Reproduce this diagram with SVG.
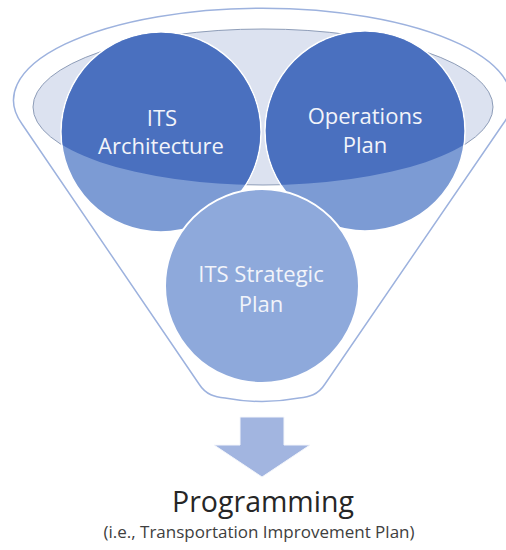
<svg xmlns="http://www.w3.org/2000/svg" width="506" height="550" viewBox="0 0 506 550">
  <style>
    .lbl { font-family: "Open Sans", "Liberation Sans", sans-serif; font-size: 22px; fill: #F2F4FA; text-anchor: middle; }
    .top-lo { fill: #7C9BD4; stroke: #FFFFFF; stroke-width: 1.5; }
    .top-hi { fill: #4A70BF; }
    .cap { font-family: "Open Sans", "Liberation Sans", sans-serif; text-anchor: middle; }
  </style>
  <defs>
    <clipPath id="aboveRim">
      <path d="M 0,0 H 506 V 107 H 493 A 230 78 0 0 1 33,107 H 0 Z"/>
    </clipPath>
  </defs>
  <rect width="506" height="550" fill="#FFFFFF"/>

  <g id="funnel">
    <path d="M 22,124 A 249 92 0 1 1 503,124 L 325,384 C 318,395 309,397 299,398 Q 262,405 225,398 C 215,397 206,395 199,384 Z" fill="#FFFFFF" stroke="#9DB2DE" stroke-width="1.5"/>
    <ellipse cx="263" cy="107" rx="230" ry="78" fill="#DCE2F0" stroke="#8E9DB8" stroke-width="1"/>
  </g>

  <g id="node-its-architecture">
    <circle class="top-lo" cx="161" cy="132" r="100"/>
    <circle class="top-hi" cx="161" cy="132" r="99.2" clip-path="url(#aboveRim)"/>
    <text class="lbl" x="162" y="126">ITS</text>
    <text class="lbl" x="161" y="154">Architecture</text>
  </g>

  <g id="node-operations-plan">
    <circle class="top-lo" cx="365" cy="131" r="100"/>
    <circle class="top-hi" cx="365" cy="131" r="99.2" clip-path="url(#aboveRim)"/>
    <text class="lbl" x="365" y="124">Operations</text>
    <text class="lbl" x="365" y="153">Plan</text>
  </g>

  <g id="node-its-strategic-plan">
    <circle cx="262" cy="286" r="97" fill="#8EA9DB" stroke="#FFFFFF" stroke-width="2"/>
    <text class="lbl" x="261" y="282">ITS Strategic</text>
    <text class="lbl" x="261" y="312">Plan</text>
  </g>

  <g id="connectors">
    <path d="M 240,417 H 284 V 445 H 310 L 262,477 L 214,445 H 240 Z" fill="#A2B5E0" stroke="#F4F6FB" stroke-width="1"/>
  </g>

  <g id="node-programming">
    <text class="cap" x="263" y="512" font-size="28.5" fill="#262626">Programming</text>
    <text class="cap" x="259" y="538" font-size="17" fill="#404040">(i.e., Transportation Improvement Plan)</text>
  </g>
</svg>
